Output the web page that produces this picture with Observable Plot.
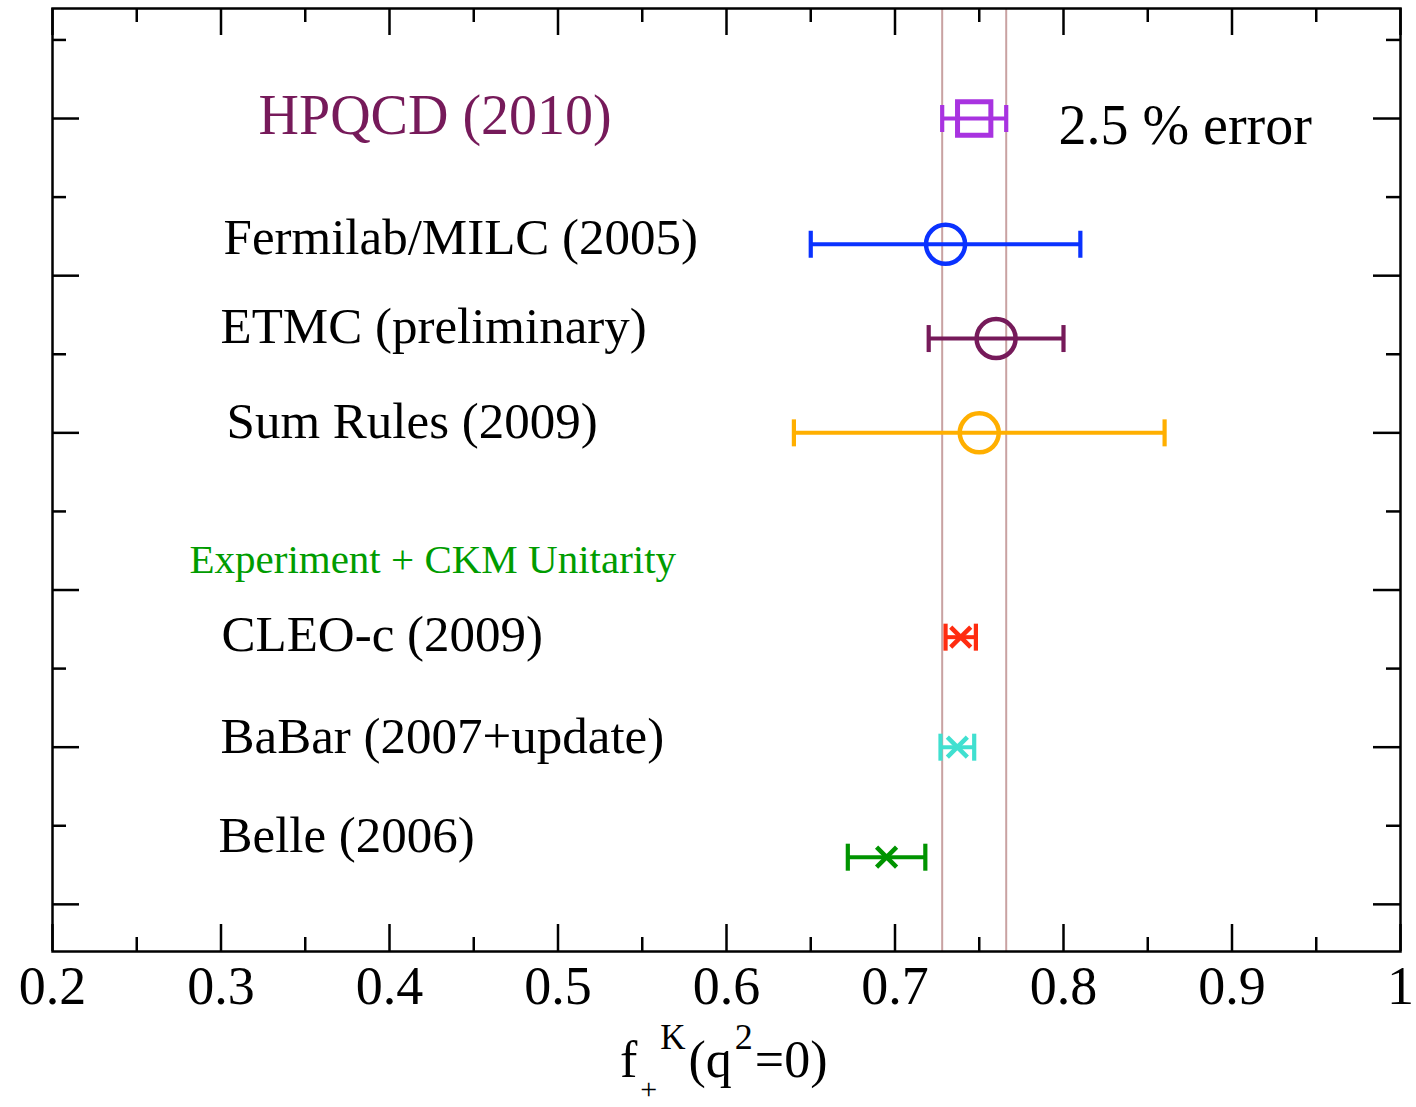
<!DOCTYPE html>
<html>
<head>
<meta charset="utf-8">
<script src="https://cdn.jsdelivr.net/npm/d3@7"></script>
<script src="https://cdn.jsdelivr.net/npm/@observablehq/plot@0.6"></script>
<style>
  html, body { margin: 0; padding: 0; background: #fff; }
</style>
</head>
<body>
<div id="chart"></div>
<script>
// ---------- data ----------
const names   = ["HPQCD (2010)", "Fermilab/MILC (2005)", "ETMC (preliminary)", "Sum Rules (2009)", "CLEO-c (2009)", "BaBar (2007+update)", "Belle (2006)"];
const values  = [0.747, 0.730, 0.760, 0.750, 0.739, 0.737, 0.695];
const lowers  = [0.728, 0.650, 0.720, 0.640, 0.730, 0.727, 0.672];
const uppers  = [0.766, 0.810, 0.800, 0.860, 0.748, 0.747, 0.718];
const rows    = [10.6, 9.0, 7.8, 6.6, 4.0, 2.6, 1.2];
const markers = ["square", "circle", "circle", "circle", "times", "times", "times"];
const colors  = ["#a833e0", "#0a32ff", "#761a5a", "#ffaf00", "#ff2c10", "#40e0d0", "#009400"];

const bandEdges = [0.728, 0.766];

const labelTexts  = ["HPQCD (2010)", "2.5 % error", "Fermilab/MILC (2005)", "ETMC (preliminary)", "Sum Rules (2009)", "Experiment + CKM Unitarity", "CLEO-c (2009)", "BaBar (2007+update)", "Belle (2006)"];
const labelX      = [0.3223, 0.797, 0.3015, 0.2997, 0.3033, 0.2813, 0.3003, 0.2997, 0.2985];
const labelY      = [10.40, 10.28, 8.88, 7.74, 6.53, 4.82, 3.83, 2.53, 1.26];
const labelColors = ["#761a5a", "#000000", "#000000", "#000000", "#000000", "#009c00", "#000000", "#000000", "#000000"];
const labelSizes  = [56, 56, 51, 51, 51, 41, 51, 51, 51];

const xMajor = [0.2, 0.3, 0.4, 0.5, 0.6, 0.7, 0.8, 0.9, 1.0];
const xMinor = [0.25, 0.35, 0.45, 0.55, 0.65, 0.75, 0.85, 0.95];
const xTickLabels = ["0.2", "0.3", "0.4", "0.5", "0.6", "0.7", "0.8", "0.9", "1"];
const yMajor = [0.6, 2.6, 4.6, 6.6, 8.6, 10.6];
const yMinor = [1.6, 3.6, 5.6, 7.6, 9.6, 11.6];

// ---------- layout ----------
const W = 1416, H = 1107;
const mL = 52, mR = 16, mT = 8, mB = 156;
const innerW = W - mL - mR, innerH = H - mT - mB;
const majorLen = 27, minorLen = 14;
const font = "'Liberation Serif', 'Times New Roman', Times, serif";

const data = names.map((name, i) => ({
  name, value: values[i], lo: lowers[i], hi: uppers[i],
  row: rows[i], marker: markers[i], color: colors[i]
}));
const labels = labelTexts.map((text, i) => ({
  text, x: labelX[i], y: labelY[i], color: labelColors[i], size: labelSizes[i]
}));

const capSymbol = {
  draw(ctx, size) { const r = Math.sqrt(size / Math.PI); ctx.moveTo(0, -r); ctx.lineTo(0, r); }
};
const crossSymbol = {
  draw(ctx, size) {
    const r = Math.sqrt(size / Math.PI);
    ctx.moveTo(-r, -r); ctx.lineTo(r, r);
    ctx.moveTo(r, -r); ctx.lineTo(-r, r);
  }
};

const tickStyle = { stroke: "#000", strokeWidth: 2.5 };

const plot = Plot.plot({
  width: W, height: H,
  marginLeft: mL, marginRight: mR, marginTop: mT, marginBottom: mB,
  style: { fontFamily: font, background: "#fff", color: "#000" },
  x: { domain: [0.2, 1], axis: null },
  y: { domain: [0, 12], axis: null },
  color: { type: "identity" },
  marks: [
    Plot.ruleX(bandEdges, { x: d => d, stroke: "#c9a2a2", strokeWidth: 2 }),
    // error bars
    Plot.ruleY(data, { y: "row", x1: "lo", x2: "hi", stroke: d => d.color, strokeWidth: 4 }),
    Plot.dot(data, { x: "lo", y: "row", symbol: capSymbol, r: 13.5, stroke: d => d.color, strokeWidth: 4.2, fill: "none" }),
    Plot.dot(data, { x: "hi", y: "row", symbol: capSymbol, r: 13.5, stroke: d => d.color, strokeWidth: 4.2, fill: "none" }),
    // markers
    Plot.dot(data, { filter: d => d.marker === "circle", x: "value", y: "row", r: 19.5, stroke: d => d.color, strokeWidth: 4.5, fill: "none" }),
    Plot.dot(data, { filter: d => d.marker === "square", x: "value", y: "row", symbol: "square", r: 18.8, stroke: d => d.color, strokeWidth: 5, fill: "none" }),
    Plot.dot(data, { filter: d => d.marker === "times", x: "value", y: "row", symbol: crossSymbol, r: 10, stroke: d => d.color, strokeWidth: 4.5, fill: "none" }),
    // labels
    Plot.text(labels, { x: "x", y: "y", text: "text", fill: d => d.color, fontSize: d => d.size, textAnchor: "start", lineAnchor: "bottom" }),
    // inward ticks: bottom / top
    Plot.tickX(xMajor, { x: d => d, insetTop: innerH - majorLen, ...tickStyle }),
    Plot.tickX(xMinor, { x: d => d, insetTop: innerH - minorLen, ...tickStyle }),
    Plot.tickX(xMajor, { x: d => d, insetBottom: innerH - majorLen, ...tickStyle }),
    Plot.tickX(xMinor, { x: d => d, insetBottom: innerH - minorLen, ...tickStyle }),
    // inward ticks: left / right
    Plot.tickY(yMajor, { y: d => d, insetRight: innerW - majorLen, ...tickStyle }),
    Plot.tickY(yMinor, { y: d => d, insetRight: innerW - minorLen, ...tickStyle }),
    Plot.tickY(yMajor, { y: d => d, insetLeft: innerW - majorLen, ...tickStyle }),
    Plot.tickY(yMinor, { y: d => d, insetLeft: innerW - minorLen, ...tickStyle }),
    Plot.frame({ stroke: "#000", strokeWidth: 2.5 }),
    // x tick labels
    Plot.text(xMajor, { x: d => d, text: (d, i) => xTickLabels[i], frameAnchor: "bottom", dy: 52, lineAnchor: "bottom", fontSize: 54, fill: "#000" })
  ]
});

// axis label with sub/superscripts
const svg = d3.select(plot);
const cx = (mL + (W - mR)) / 2;
const lab = svg.append("text")
  .attr("x", cx - 106).attr("y", 1077)
  .attr("font-family", font).attr("font-size", 52).attr("fill", "#000")
  .attr("text-anchor", "start");
lab.append("tspan").text("f");
lab.append("tspan").attr("font-size", 30).attr("dx", 3).attr("dy", 22).text("+");
lab.append("tspan").attr("font-size", 35).attr("dx", 3).attr("dy", -50).text("K");
lab.append("tspan").attr("font-size", 52).attr("dx", 3).attr("dy", 28).text("(q");
lab.append("tspan").attr("font-size", 36).attr("dx", 3).attr("dy", -28).text("2");
lab.append("tspan").attr("font-size", 52).attr("dx", 2).attr("dy", 28).text("=0)");

document.getElementById("chart").appendChild(plot);
</script>
</body>
</html>
